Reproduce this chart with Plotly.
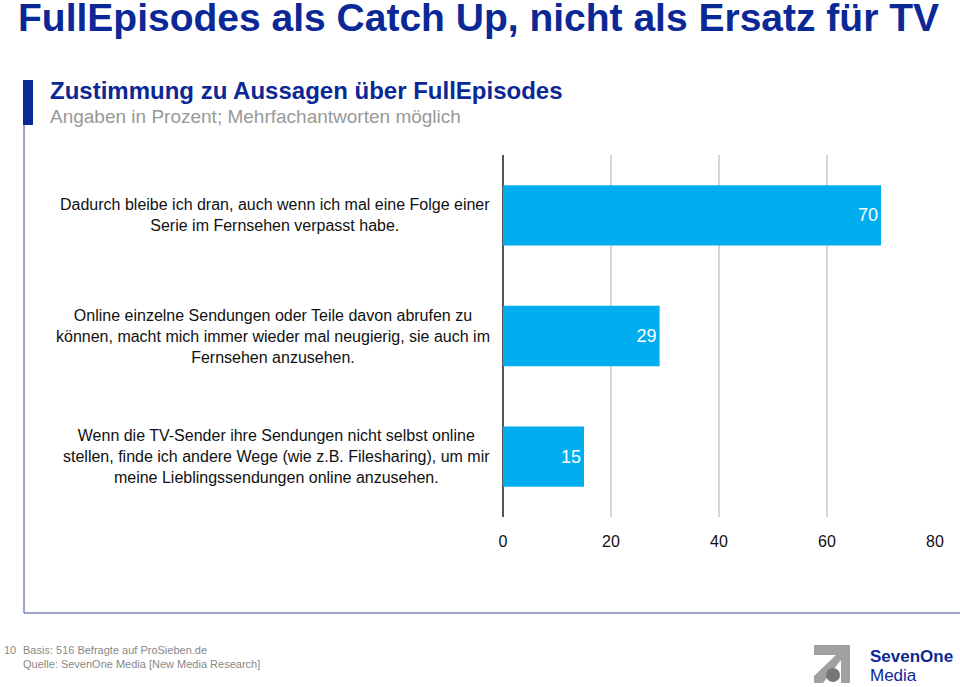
import plotly.graph_objects as go

categories = [
    "Dadurch bleibe ich dran, auch wenn ich mal eine Folge einer<br>Serie im Fernsehen verpasst habe.",
    "Online einzelne Sendungen oder Teile davon abrufen zu<br>können, macht mich immer wieder mal neugierig, sie auch im<br>Fernsehen anzusehen.",
    "Wenn die TV-Sender ihre Sendungen nicht selbst online<br>stellen, finde ich andere Wege (wie z.B. Filesharing), um mir<br>meine Lieblingssendungen online anzusehen.",
]
values = [70, 29, 15]
tick_vals = [0, 20, 40, 60, 80]

title = "FullEpisodes als Catch Up, nicht als Ersatz für TV"
subtitle = "Zustimmung zu Aussagen über FullEpisodes"
subnote = "Angaben in Prozent; Mehrfachantworten möglich"
footer1 = "Basis: 516 Befragte auf ProSieben.de"
footer2 = "Quelle: SevenOne Media [New Media Research]"
page_no = "10"

W, H = 960, 687
PX0, PX1, PY0, PY1 = 503, 935, 155, 517   # plot area in page pixels
L, T = PX0, PY0
R = W - PX1
B = H - PY1
DARK = "#0A2896"
BAR = "#00AEEF"
FONT = "Liberation Sans, Arial, sans-serif"
NARROW = "Liberation Sans Narrow, Arial Narrow, Liberation Sans, sans-serif"

fig = go.Figure()
fig.add_trace(go.Bar(
    x=values, y=list(range(len(values))), orientation="h",
    marker=dict(color=BAR, line=dict(width=0)), width=0.5,
    text=[str(v) for v in values], textposition="inside", insidetextanchor="end",
    textfont=dict(color="white", size=18, family=FONT),
    cliponaxis=False, hoverinfo="skip",
))

for i, c in enumerate(categories):
    fig.add_annotation(x=0, xref="paper", y=i, yref="y", text=c, showarrow=False,
                       xanchor="right", yanchor="middle", align="center", xshift=-11,
                       font=dict(size=16, color="#111111", family=FONT))

fig.update_xaxes(range=[0, 80], tickvals=tick_vals, showgrid=True, gridcolor="#D6D6D6",
                 gridwidth=1.5, zeroline=True, zerolinecolor="#555555", zerolinewidth=1.5,
                 showline=False, ticks="", ticklabelstandoff=13,
                 tickfont=dict(size=16, color="#111111", family=FONT))
fig.update_yaxes(range=[2.5, -0.5], showticklabels=False, showgrid=False, zeroline=False)

fig.update_layout(
    width=W, height=H, margin=dict(l=L, r=R, t=T, b=B, pad=0),
    paper_bgcolor="white", plot_bgcolor="white", showlegend=False,
    font=dict(family=FONT),
)

def px(x):
    return (x - PX0) / (PX1 - PX0)
def py(y):
    return 1 - (y - PY0) / (PY1 - PY0)

def text_at(x, y, txt, size, color, family=FONT):
    fig.add_annotation(x=px(x), y=py(y), xref="paper", yref="paper", text=txt,
                       showarrow=False, xanchor="left", yanchor="middle", borderpad=0,
                       font=dict(size=size, color=color, family=family))

# headings
text_at(17, 18, f"<b>{title}</b>", 39, DARK, NARROW)
text_at(49, 90, f"<b>{subtitle}</b>", 24, DARK)
text_at(49, 116, subnote, 19, "#999999")

# footer
text_at(3, 650, page_no, 11, "#888888")
text_at(22, 650, footer1, 11, "#888888")
text_at(22, 664, footer2, 11, "#888888")

# frame lines
fig.add_shape(type="rect", xref="paper", yref="paper", x0=px(23), x1=px(33), y0=py(80), y1=py(125),
              fillcolor=DARK, line=dict(width=0))
fig.add_shape(type="line", xref="paper", yref="paper", x0=px(24), x1=px(24), y0=py(125), y1=py(613),
              line=dict(color="#3C4A9A", width=1))
fig.add_shape(type="line", xref="paper", yref="paper", x0=px(24), x1=px(962), y0=py(613), y1=py(613),
              line=dict(color="#3C4A9A", width=1))

# logo
grey = "#A0A0A0"
def pth(pts):
    return "M " + " L ".join(f"{px(x):.5f},{py(y):.5f}" for x, y in pts) + " Z"
fig.add_shape(type="path", xref="paper", yref="paper",
              path=pth([(814, 645), (850, 645), (850, 683), (841, 683), (841, 660), (823, 683),
                        (814, 683), (814, 676), (836, 655), (814, 655)]),
              fillcolor=grey, line=dict(width=0))
fig.add_shape(type="circle", xref="paper", yref="paper", x0=px(826), x1=px(840), y0=py(668), y1=py(682),
              fillcolor="#777777", line=dict(width=0))
text_at(869, 656, "<b>SevenOne</b>", 17, DARK)
text_at(869, 675, "Media", 17, DARK)

fig.write_html("out.html", config={"displayModeBar": False},
               post_script="document.body.style.margin='0';")
